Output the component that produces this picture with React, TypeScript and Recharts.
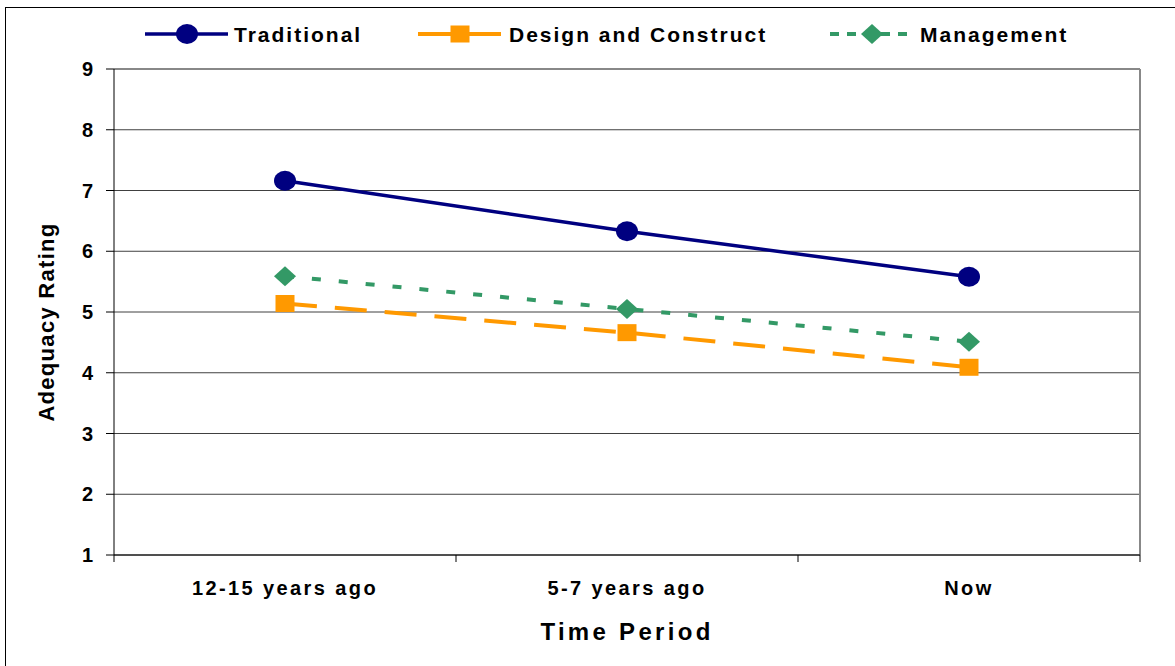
import React from "react"
import { CartesianGrid, Line, LineChart, XAxis, YAxis } from "recharts"

const FONT = '"Liberation Sans", Arial, sans-serif'

const categories = ["12-15 years ago", "5-7 years ago", "Now"]
const traditional = [7.16, 6.33, 5.58]
const designConstruct = [5.14, 4.66, 4.09]
const management = [5.59, 5.05, 4.51]
const yTicks = [1, 2, 3, 4, 5, 6, 7, 8, 9]

const data = categories.map((period, i) => ({
  period,
  traditional: traditional[i],
  designConstruct: designConstruct[i],
  management: management[i],
}))

const W = 1175
const H = 666
const margin = { top: 69, right: 35, left: 64, bottom: 21 }
const Y_AXIS_W = 50
const X_AXIS_H = 90
const plotWidth = W - margin.left - margin.right - Y_AXIS_W
const halfBand = plotWidth / (categories.length * 2)

const NAVY = "#000080"
const ORANGE = "#FF9900"
const GREEN = "#339966"

const Circle = ({ cx, cy, fill }: { cx: number; cy: number; fill: string }) => (
  <ellipse cx={cx} cy={cy} rx={11} ry={10} fill={fill} />
)
const Square = ({ cx, cy, fill }: { cx: number; cy: number; fill: string }) => (
  <rect x={cx - 9.5} y={cy - 8.5} width={19} height={17} fill={fill} />
)
const Diamond = ({ cx, cy, fill }: { cx: number; cy: number; fill: string }) => (
  <polygon points={`${cx},${cy - 10} ${cx + 11},${cy} ${cx},${cy + 10} ${cx - 11},${cy}`} fill={fill} />
)

const series = [
  { key: "traditional", name: "Traditional", color: NAVY, width: 3.5, dash: undefined, legendDash: undefined, Marker: Circle, lx: 145, tx: 234 },
  { key: "designConstruct", name: "Design and Construct", color: ORANGE, width: 4, dash: "32 18", legendDash: undefined, Marker: Square, lx: 418, tx: 509 },
  { key: "management", name: "Management", color: GREEN, width: 4, dash: "9 18", legendDash: "9 8", Marker: Diamond, lx: 830, tx: 920 },
]

const XTick = (props: any) => {
  const { x, y, payload, index } = props
  const last = index === categories.length - 1
  return (
    <g>
      <line x1={x - halfBand} x2={x - halfBand} y1={y - 7} y2={y} stroke="#000" />
      {last ? <line x1={x + halfBand} x2={x + halfBand} y1={y - 7} y2={y} stroke="#000" /> : null}
      <text
        x={x}
        y={y + 26}
        textAnchor="middle"
        dominantBaseline="central"
        fontFamily={FONT}
        fontWeight={700}
        fontSize={20}
        letterSpacing={2.4}
        fill="#000"
      >
        {payload.value}
      </text>
    </g>
  )
}

const XTitle = (props: any) => {
  const { viewBox } = props
  return (
    <text
      x={viewBox.x + viewBox.width / 2}
      y={viewBox.y + 76}
      textAnchor="middle"
      dominantBaseline="central"
      fontFamily={FONT}
      fontWeight={700}
      fontSize={24}
      letterSpacing={3.3}
      fill="#000"
    >
      Time Period
    </text>
  )
}

const YTitle = (props: any) => {
  const { viewBox } = props
  const cx = 46
  const cy = viewBox.y + viewBox.height / 2 + 10
  return (
    <text
      x={cx}
      y={cy}
      transform={`rotate(-90 ${cx} ${cy})`}
      textAnchor="middle"
      dominantBaseline="central"
      fontFamily={FONT}
      fontWeight={700}
      fontSize={22}
      letterSpacing={1.3}
      fill="#000"
    >
      Adequacy Rating
    </text>
  )
}

function LegendRow() {
  const cy = 34
  return (
    <svg width={W} height={60} style={{ position: "absolute", left: 0, top: 0 }}>
      {series.map((s) => (
        <g key={s.key}>
          <line x1={s.lx} x2={s.lx + 83} y1={cy} y2={cy} stroke={s.color} strokeWidth={s.width} strokeDasharray={s.legendDash} />
          <s.Marker cx={s.lx + 42} cy={cy} fill={s.color} />
          <text
            x={s.tx}
            y={cy}
            dominantBaseline="central"
            fontFamily={FONT}
            fontWeight={700}
            fontSize={21}
            letterSpacing={2}
            fill="#000"
          >
            {s.name}
          </text>
        </g>
      ))}
    </svg>
  )
}

export default function App() {
  return (
    <div style={{ position: "absolute", left: 0, top: 0, width: W, height: H, overflow: "hidden", background: "#fff" }}>
      <div
        style={{
          position: "absolute",
          left: 5,
          top: 7,
          width: 1300,
          height: 800,
          borderLeft: "1px solid #000",
          borderTop: "1px solid #000",
        }}
      />
      <LineChart width={W} height={H} data={data} margin={margin} style={{ position: "absolute", left: 0, top: 0 }}>
        <CartesianGrid vertical={false} stroke="#404040" />
        <CartesianGrid
          stroke="#888"
          strokeWidth={2}
          horizontalCoordinatesGenerator={({ offset }: any) => [offset.top]}
          verticalCoordinatesGenerator={({ offset }: any) => [offset.left + offset.width]}
        />
        <XAxis
          dataKey="period"
          height={X_AXIS_H}
          padding={{ left: halfBand, right: halfBand }}
          axisLine={{ stroke: "#000" }}
          tickLine={false}
          tickSize={7}
          tickMargin={0}
          tick={<XTick />}
          interval={0}
          label={<XTitle />}
        />
        <YAxis
          width={Y_AXIS_W}
          domain={[1, 9]}
          ticks={yTicks}
          interval={0}
          axisLine={{ stroke: "#000" }}
          tickLine={{ stroke: "#000" }}
          tickSize={8}
          tickMargin={13}
          tick={{ fill: "#000", fontSize: 20, fontWeight: 700, fontFamily: FONT }}
          label={<YTitle />}
        />
        {series.map((s) => (
          <Line
            key={s.key}
            type="linear"
            dataKey={s.key}
            name={s.name}
            stroke={s.color}
            strokeWidth={s.width}
            strokeDasharray={s.dash}
            isAnimationActive={false}
            activeDot={false}
            dot={(p: any) => <s.Marker key={`${s.key}-${p.index}`} cx={p.cx} cy={p.cy} fill={s.color} />}
          />
        ))}
      </LineChart>
      <LegendRow />
    </div>
  )
}
